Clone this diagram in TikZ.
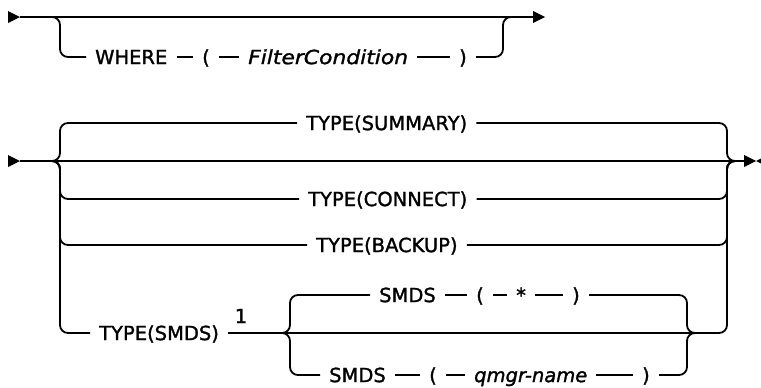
\documentclass[tikz,border=0pt]{standalone}
\usepackage{fontspec}
\setmainfont{DejaVu Sans}[FakeBold=1.4]
\newfontfamily\widit{DejaVu Sans}[FakeBold=1.4, FakeStretch=1.12]
\newcommand\railseg[2]{\draw[rail] ([xshift=9pt]#1.east) -- ([xshift=-9pt]#2.west);}
\begin{document}
\begin{tikzpicture}[x=1pt,y=-1pt,
  rail/.style={line width=1.8pt, rounded corners=8pt},
  tok/.style={inner sep=0pt, anchor=west, font=\fontsize{19.5}{23}\selectfont, text height=14.2pt, text depth=0pt},
  itok/.style={tok, font=\fontsize{19.5}{23}\selectfont\itshape},
  witok/.style={tok, font=\widit\fontsize{19.5}{23}\selectfont\itshape},
  note/.style={inner sep=0pt, font=\fontsize{19.5}{23}\selectfont}]
\useasboundingbox (0,0) rectangle (761,388);

% ---------- diagram 1 ----------
\coordinate (a1) at (20,17);
\coordinate (b1) at (533,17);
\coordinate (j1l) at (50,17);
\coordinate (j1r) at (513,17);
\node[tok] (where) at (95,57) {WHERE};
\node[tok] (wl) at (202,57) {(};
\node[witok] (fc) at (248,57) {FilterCondition};
\node[tok] (wr) at (459,57) {)};

\fill (8,11) -- (a1) -- (8,23) -- cycle;
\draw[rail] (a1) -- (b1);
\fill (533,11) -- (545,17) -- (533,23) -- cycle;
\draw[rail] (j1l) -| (60,57) -- ([xshift=-9pt]where.west);
\railseg{where}{wl}
\railseg{wl}{fc}
\railseg{fc}{wr}
\draw[rail] ([xshift=9pt]wr.east) -| (503,17) -- (j1r);

% ---------- diagram 2 ----------
\coordinate (a2) at (20,161);
\coordinate (b2) at (745,161);
\coordinate (j2l) at (50,161);
\coordinate (j2r) at (737,161);
\coordinate (k2l) at (280,333);
\coordinate (k2r) at (697,333);

\node[tok] (sum) at (306,123) {TYPE(SUMMARY)};
\node[tok] (con) at (308,199) {TYPE(CONNECT)};
\node[tok] (bak) at (316,245) {TYPE(BACKUP)};
\node[tok] (tsm) at (99,333) {TYPE(SMDS)};
\node[note] (fn) at (241,316) {1};

\node[tok] (sa) at (379,295) {SMDS};
\node[tok] (sb) at (476,295) {(};
\node[tok] (sc) at (516,295) {*};
\node[tok] (sd) at (572,295) {)};

\node[tok] (qa) at (329,375) {SMDS};
\node[tok] (qb) at (429,375) {(};
\node[itok] (qc) at (474,375) {qmgr-name};
\node[tok] (qd) at (642,375) {)};

\fill (8,155) -- (a2) -- (8,167) -- cycle;
\draw[rail] (a2) -- (b2);
\fill (744,155) -- (756,161) -- (744,167) -- cycle;
\fill (756,161) -- (768,155) -- (768,167) -- cycle;

\draw[rail] (j2l) -| (60,123) -- ([xshift=-9pt]sum.west);
\draw[rail] (j2l) -| (60,199) -- ([xshift=-9pt]con.west);
\draw[rail] (j2l) -| (60,245) -- ([xshift=-9pt]bak.west);
\draw[rail] (j2l) -| (60,333) -- ([xshift=-9pt]tsm.west);

\draw[rail] ([xshift=9pt]sum.east) -| (727,161) -- (j2r);
\draw[rail] ([xshift=9pt]con.east) -| (727,161) -- (j2r);
\draw[rail] ([xshift=9pt]bak.east) -| (727,161) -- (j2r);
\draw[rail] ([xshift=9pt]tsm.east) -| (727,161) -- (j2r);

\draw[rail] (k2l) -| (290,295) -- ([xshift=-9pt]sa.west);
\draw[rail] (k2l) -| (290,375) -- ([xshift=-9pt]qa.west);
\railseg{sa}{sb}
\railseg{sb}{sc}
\railseg{sc}{sd}
\railseg{qa}{qb}
\railseg{qb}{qc}
\railseg{qc}{qd}
\draw[rail] ([xshift=9pt]sd.east) -| (687,333) -- (k2r);
\draw[rail] ([xshift=9pt]qd.east) -| (687,333) -- (k2r);
\end{tikzpicture}
\end{document}
